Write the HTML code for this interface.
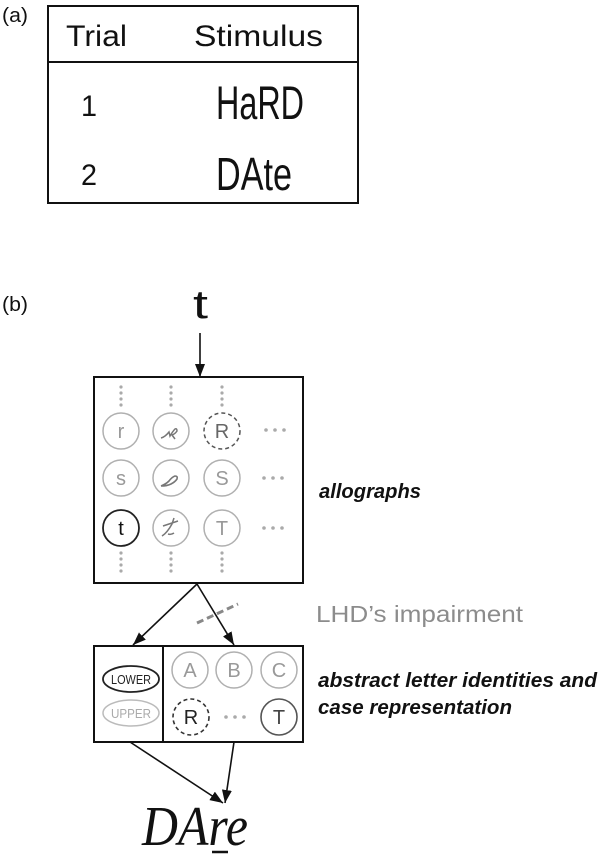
<!DOCTYPE html>
<html>
<head>
<meta charset="utf-8">
<style>
  html,body{margin:0;padding:0;background:#fff;}
  svg{display:block;}
  text{font-family:"Liberation Sans",sans-serif;}
  text.script{font-family:"Liberation Serif",serif;font-style:italic;}
</style>
</head>
<body>
<svg width="602" height="857" viewBox="0 0 602 857" xmlns="http://www.w3.org/2000/svg">
  <defs>
    <marker id="ah" markerUnits="userSpaceOnUse" markerWidth="13" markerHeight="10" refX="13" refY="5" orient="auto">
      <path d="M0,0 L13,5 L0,10 z" fill="#111"/>
    </marker>
  </defs>

  <!-- (a) table -->
  <text x="2" y="22" font-size="20" fill="#111" textLength="26" lengthAdjust="spacingAndGlyphs">(a)</text>
  <rect x="48" y="6" width="310" height="197" fill="none" stroke="#111" stroke-width="2"/>
  <line x1="48" y1="62" x2="358" y2="62" stroke="#111" stroke-width="2"/>
  <text x="66" y="46" font-size="30" fill="#111" textLength="61" lengthAdjust="spacingAndGlyphs">Trial</text>
  <text x="194" y="46" font-size="30" fill="#111" textLength="129" lengthAdjust="spacingAndGlyphs">Stimulus</text>
  <text x="81" y="116" font-size="30" fill="#111" textLength="16" lengthAdjust="spacingAndGlyphs">1</text>
  <text x="81" y="185" font-size="30" fill="#111" textLength="16" lengthAdjust="spacingAndGlyphs">2</text>
  <text x="216" y="119" font-size="47" fill="#111" textLength="88" lengthAdjust="spacingAndGlyphs">HaRD</text>
  <text x="216" y="190" font-size="46" fill="#111" textLength="76" lengthAdjust="spacingAndGlyphs">DAte</text>

  <!-- (b) -->
  <text x="2" y="311" font-size="20" fill="#111" textLength="26" lengthAdjust="spacingAndGlyphs">(b)</text>
  <text x="193" y="318" font-size="40" fill="#111" textLength="15" lengthAdjust="spacingAndGlyphs">t</text>
  <line x1="200" y1="333" x2="200" y2="377" stroke="#111" stroke-width="1.6" marker-end="url(#ah)"/>

  <!-- allographs box -->
  <rect x="94" y="377" width="209" height="206" fill="none" stroke="#111" stroke-width="2"/>

  <!-- vertical dots -->
  <g fill="#aaa">
    <circle cx="121" cy="387" r="1.6"/><circle cx="121" cy="393" r="1.6"/><circle cx="121" cy="399" r="1.6"/><circle cx="121" cy="405" r="1.6"/>
    <circle cx="171" cy="387" r="1.6"/><circle cx="171" cy="393" r="1.6"/><circle cx="171" cy="399" r="1.6"/><circle cx="171" cy="405" r="1.6"/>
    <circle cx="222" cy="387" r="1.6"/><circle cx="222" cy="393" r="1.6"/><circle cx="222" cy="399" r="1.6"/><circle cx="222" cy="405" r="1.6"/>
    <circle cx="121" cy="553" r="1.6"/><circle cx="121" cy="559" r="1.6"/><circle cx="121" cy="565" r="1.6"/><circle cx="121" cy="571" r="1.6"/>
    <circle cx="171" cy="553" r="1.6"/><circle cx="171" cy="559" r="1.6"/><circle cx="171" cy="565" r="1.6"/><circle cx="171" cy="571" r="1.6"/>
    <circle cx="222" cy="553" r="1.6"/><circle cx="222" cy="559" r="1.6"/><circle cx="222" cy="565" r="1.6"/><circle cx="222" cy="571" r="1.6"/>
    <!-- horizontal ellipses -->
    <circle cx="266" cy="430" r="1.8"/><circle cx="275" cy="430" r="1.8"/><circle cx="284" cy="430" r="1.8"/>
    <circle cx="264" cy="478" r="1.8"/><circle cx="273" cy="478" r="1.8"/><circle cx="282" cy="478" r="1.8"/>
    <circle cx="264" cy="528" r="1.8"/><circle cx="273" cy="528" r="1.8"/><circle cx="282" cy="528" r="1.8"/>
  </g>

  <!-- row 1 -->
  <circle cx="121" cy="431" r="18" fill="none" stroke="#b0b0b0" stroke-width="1.5"/>
  <text x="121" y="438" font-size="20" fill="#999" text-anchor="middle">r</text>
  <circle cx="171" cy="431" r="18" fill="none" stroke="#b0b0b0" stroke-width="1.5"/>
  <path d="M161,438 q4,-1 8,-6 l1,4 q3,-5 5,-7 q2,-1 2,2 q-2,3 -5,4 l3,4" fill="none" stroke="#777" stroke-width="1.5"/>
  <circle cx="222" cy="431" r="18" fill="none" stroke="#555" stroke-width="1.5" stroke-dasharray="4 3"/>
  <text x="222" y="438" font-size="20" fill="#666" text-anchor="middle">R</text>

  <!-- row 2 -->
  <circle cx="121" cy="478" r="18" fill="none" stroke="#b0b0b0" stroke-width="1.5"/>
  <text x="121" y="485" font-size="20" fill="#999" text-anchor="middle">s</text>
  <circle cx="171" cy="478" r="18" fill="none" stroke="#b0b0b0" stroke-width="1.5"/>
  <path d="M161,486 q5,-2 8,-5 q3,-4 6,-5 q3,0 2,3 q-2,3 -6,5 q-4,2 -10,2" fill="none" stroke="#777" stroke-width="1.6"/>
  <circle cx="222" cy="478" r="18" fill="none" stroke="#b0b0b0" stroke-width="1.5"/>
  <text x="222" y="485" font-size="20" fill="#999" text-anchor="middle">S</text>

  <!-- row 3 -->
  <circle cx="121" cy="528" r="18" fill="none" stroke="#222" stroke-width="1.8"/>
  <text x="121" y="535" font-size="20" fill="#111" text-anchor="middle">t</text>
  <circle cx="171" cy="528" r="18" fill="none" stroke="#b0b0b0" stroke-width="1.5"/>
  <path d="M162,536 q5,-3 10,-12 l2,-6 M163,526 l15,-5 M168,534 q3,1 6,-1" fill="none" stroke="#777" stroke-width="1.5"/>
  <circle cx="222" cy="528" r="18" fill="none" stroke="#b0b0b0" stroke-width="1.5"/>
  <text x="222" y="535" font-size="20" fill="#999" text-anchor="middle">T</text>

  <text x="319" y="498" font-size="20" font-weight="bold" font-style="italic" fill="#111" textLength="102" lengthAdjust="spacingAndGlyphs">allographs</text>

  <!-- arrows from allographs -->
  <line x1="197" y1="584" x2="133" y2="645" stroke="#111" stroke-width="1.6" marker-end="url(#ah)"/>
  <line x1="197" y1="584" x2="234" y2="645" stroke="#111" stroke-width="1.6" marker-end="url(#ah)"/>
  <line x1="197" y1="623" x2="238" y2="604" stroke="#888" stroke-width="3" stroke-dasharray="7 4"/>
  <text x="316" y="622" font-size="23" fill="#8c8c8c" textLength="207" lengthAdjust="spacingAndGlyphs">LHD’s impairment</text>

  <!-- lower box -->
  <rect x="94" y="646" width="209" height="96" fill="none" stroke="#111" stroke-width="2"/>
  <line x1="163" y1="646" x2="163" y2="742" stroke="#111" stroke-width="2"/>
  <ellipse cx="131" cy="679" rx="28" ry="13" fill="none" stroke="#222" stroke-width="1.8"/>
  <text x="131" y="684" font-size="13" fill="#222" text-anchor="middle" textLength="40" lengthAdjust="spacingAndGlyphs">LOWER</text>
  <ellipse cx="131" cy="713" rx="28" ry="13" fill="none" stroke="#bbb" stroke-width="1.5"/>
  <text x="131" y="718" font-size="13" fill="#aaa" text-anchor="middle" textLength="40" lengthAdjust="spacingAndGlyphs">UPPER</text>

  <circle cx="190" cy="670" r="18" fill="none" stroke="#b0b0b0" stroke-width="1.5"/>
  <text x="190" y="677" font-size="20" fill="#999" text-anchor="middle">A</text>
  <circle cx="234" cy="670" r="18" fill="none" stroke="#b0b0b0" stroke-width="1.5"/>
  <text x="234" y="677" font-size="20" fill="#999" text-anchor="middle">B</text>
  <circle cx="279" cy="670" r="18" fill="none" stroke="#b0b0b0" stroke-width="1.5"/>
  <text x="279" y="677" font-size="20" fill="#999" text-anchor="middle">C</text>

  <circle cx="191" cy="717" r="18" fill="none" stroke="#333" stroke-width="1.6" stroke-dasharray="4 3"/>
  <text x="191" y="724" font-size="20" fill="#222" text-anchor="middle">R</text>
  <g fill="#aaa"><circle cx="226" cy="717" r="1.8"/><circle cx="235" cy="717" r="1.8"/><circle cx="244" cy="717" r="1.8"/></g>
  <circle cx="279" cy="717" r="18" fill="none" stroke="#555" stroke-width="1.6"/>
  <text x="279" y="724" font-size="20" fill="#444" text-anchor="middle">T</text>

  <text x="318" y="687" font-size="20" font-weight="bold" font-style="italic" fill="#111" textLength="279" lengthAdjust="spacingAndGlyphs">abstract  letter identities and</text>
  <text x="318" y="714" font-size="20" font-weight="bold" font-style="italic" fill="#111" textLength="194" lengthAdjust="spacingAndGlyphs">case representation</text>

  <!-- arrows to output -->
  <line x1="130" y1="742" x2="223" y2="803" stroke="#111" stroke-width="1.6" marker-end="url(#ah)"/>
  <line x1="234" y1="742" x2="225" y2="803" stroke="#111" stroke-width="1.6" marker-end="url(#ah)"/>

  <text class="script" x="142" y="845" font-size="56" fill="#111" textLength="106" lengthAdjust="spacingAndGlyphs">DAre</text>
  <line x1="212" y1="852" x2="228" y2="852" stroke="#111" stroke-width="2.5"/>
</svg>
</body>
</html>
